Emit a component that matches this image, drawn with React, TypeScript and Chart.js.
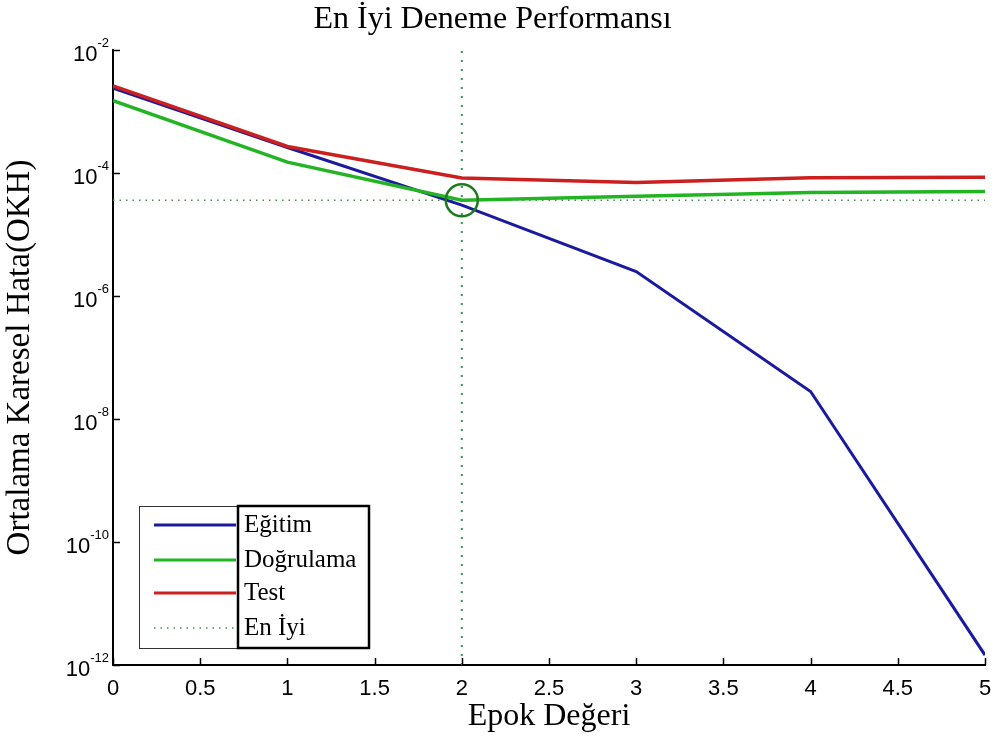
import React, { useEffect, useRef } from "react";
import { Chart, registerables } from "chart.js";

Chart.register(...registerables);

const epochs = [0, 1, 2, 3, 4, 5];
const trainValues = [2.4e-3, 2.6e-4, 3.0e-5, 2.5e-6, 2.8e-8, 1.45e-12];
const validationValues = [1.5e-3, 1.5e-4, 3.6e-5, 4.2e-5, 4.8e-5, 5.0e-5];
const testValues = [2.6e-3, 2.7e-4, 8.3e-5, 7.0e-5, 8.4e-5, 8.5e-5];
const bestEpoch = 2;
const bestValue = 3.6e-5;
const seriesLabels = ["Eğitim", "Doğrulama", "Test", "En İyi"];
const yTickExponents = [-12, -10, -8, -6, -4, -2];
const xTickStep = 0.5;

const titleText = "En İyi Deneme Performansı";
const xTitle = "Epok Değeri";
const yTitle = "Ortalama Karesel Hata(OKH)";

const BLUE = "#1a1a9e";
const GREEN = "#22b422";
const RED = "#cc1f1f";
const BEST = "#2e9a5a";
const CIRCLE = "#1e7a1e";

const serif = "'Liberation Serif', 'Times New Roman', serif";
const sans = "'Liberation Sans', Arial, sans-serif";

const axisDecor = {
  id: "axisDecor",
  afterDraw(chart: any) {
    const ctx = chart.ctx;
    const ca = chart.chartArea;
    const ys = chart.scales.y;
    const xs = chart.scales.x;
    ctx.save();
    ctx.strokeStyle = "#000";
    ctx.lineWidth = 1.5;
    ys.ticks.forEach((t: any) => {
      const p = Math.round(ys.getPixelForValue(t.value)) + 0.5;
      ctx.beginPath();
      ctx.moveTo(ca.left, p);
      ctx.lineTo(ca.left + 7, p);
      ctx.stroke();
    });
    xs.ticks.forEach((t: any) => {
      const p = Math.round(xs.getPixelForValue(t.value)) + 0.5;
      ctx.beginPath();
      ctx.moveTo(p, ca.bottom);
      ctx.lineTo(p, ca.bottom - 7);
      ctx.stroke();
    });
    ctx.fillStyle = "#000";
    ctx.textBaseline = "middle";
    yTickExponents.forEach((e) => {
      const p = ys.getPixelForValue(Math.pow(10, e));
      const expStr = String(e);
      ctx.font = `13px ${sans}`;
      const ew = ctx.measureText(expStr).width;
      const right = ca.left - 4;
      ctx.textAlign = "right";
      ctx.fillText(expStr, right, p - 7);
      ctx.font = `22px ${sans}`;
      ctx.fillText("10", right - ew, p + 5);
    });
    ctx.restore();
  },
};

const customLegend = {
  id: "customLegend",
  afterDraw(chart: any) {
    const ctx = chart.ctx;
    const ca = chart.chartArea;
    const left = ca.left + 26;
    const right = ca.left + 256;
    const top = ca.bottom - 159;
    const bottom = ca.bottom - 17;
    const split = ca.left + 125;
    ctx.save();
    ctx.fillStyle = "#fff";
    ctx.fillRect(left, top, right - left, bottom - top);
    ctx.strokeStyle = "#333";
    ctx.lineWidth = 1;
    ctx.strokeRect(left + 0.5, top + 0.5, right - left, bottom - top);
    ctx.strokeStyle = "#000";
    ctx.lineWidth = 2.5;
    ctx.strokeRect(split, top, right - split, bottom - top);
    const rows = [19, 54, 87, 122];
    const ds = chart.data.datasets;
    for (let i = 0; i < 4; i++) {
      const d = ds[i];
      const y = top + rows[i];
      ctx.beginPath();
      ctx.strokeStyle = d.borderColor;
      ctx.lineWidth = i === 3 ? 1.5 : 3;
      ctx.setLineDash(i === 3 ? [1.5, 5] : []);
      ctx.moveTo(left + 15, y);
      ctx.lineTo(split - 2, y);
      ctx.stroke();
      ctx.setLineDash([]);
      ctx.fillStyle = "#000";
      ctx.font = `25px ${serif}`;
      ctx.textAlign = "left";
      ctx.textBaseline = "middle";
      ctx.fillText(d.label, split + 6, y);
    }
    ctx.restore();
  },
};

export default function App() {
  const ref = useRef<HTMLCanvasElement | null>(null);
  useEffect(() => {
    const mk = (vals: number[]) => epochs.map((x, i) => ({ x, y: vals[i] }));
    const chart = new Chart(ref.current as HTMLCanvasElement, {
      type: "line",
      data: {
        datasets: [
          { label: seriesLabels[0], data: mk(trainValues), borderColor: BLUE, borderWidth: 3, pointRadius: 0, tension: 0, order: 3 },
          { label: seriesLabels[1], data: mk(validationValues), borderColor: GREEN, borderWidth: 3.5, pointRadius: 0, tension: 0, order: 2 },
          { label: seriesLabels[2], data: mk(testValues), borderColor: RED, borderWidth: 3.5, pointRadius: 0, tension: 0, order: 1 },
          {
            label: seriesLabels[3],
            data: [{ x: epochs[0], y: bestValue }, { x: epochs[epochs.length - 1], y: bestValue }],
            borderColor: "#4a8a5a",
            borderWidth: 1.5,
            borderDash: [1.5, 5],
            pointRadius: 0,
            order: 5,
          },
          {
            label: "bestEpochLine",
            data: [{ x: bestEpoch, y: Math.pow(10, yTickExponents[0]) }, { x: bestEpoch, y: Math.pow(10, yTickExponents[yTickExponents.length - 1]) }],
            borderColor: BEST,
            borderWidth: 2,
            borderDash: [2, 7],
            pointRadius: 0,
            order: 6,
          },
          {
            label: "bestCircle",
            data: [{ x: bestEpoch, y: bestValue }],
            borderColor: CIRCLE,
            backgroundColor: "rgba(0,0,0,0)",
            showLine: false,
            pointRadius: 16,
            pointBorderWidth: 2.5,
            pointStyle: "circle",
            order: 0,
          },
        ],
      },
      options: {
        animation: false,
        responsive: false,
        maintainAspectRatio: false,
        layout: { autoPadding: false, padding: { left: 0, right: 9, top: 0, bottom: 0 } },
        plugins: {
          legend: { display: false },
          tooltip: { enabled: false },
          title: {
            display: true,
            text: titleText,
            color: "#000",
            font: { family: serif, size: 32, weight: "normal" },
            padding: { top: 0, bottom: 11.6 },
          },
        },
        scales: {
          x: {
            type: "linear",
            min: epochs[0],
            max: epochs[epochs.length - 1],
            ticks: {
              stepSize: xTickStep,
              color: "#000",
              font: { family: sans, size: 22 },
              padding: 0,
              maxRotation: 0,
              callback: (v: any) => String(Number(v)),
            },
            grid: { display: true, drawOnChartArea: false, drawTicks: true, tickLength: 11, tickColor: "rgba(0,0,0,0)" },
            border: { display: true, color: "#000", width: 2 },
            title: { display: true, text: xTitle, color: "#000", font: { family: serif, size: 32 }, padding: { top: 0, bottom: 13 } },
            afterFit: (s: any) => { s.height = 84; },
          },
          y: {
            type: "logarithmic",
            min: Math.pow(10, yTickExponents[0]),
            max: Math.pow(10, yTickExponents[yTickExponents.length - 1]),
            afterBuildTicks: (s: any) => { s.ticks = yTickExponents.map((e) => ({ value: Math.pow(10, e) })); },
            ticks: { display: false },
            grid: { display: true, drawOnChartArea: false, drawTicks: false },
            border: { display: true, color: "#000", width: 2 },
            title: { display: true, text: yTitle, color: "#000", font: { family: serif, size: 33 }, padding: { top: 1, bottom: 0 } },
            afterFit: (s: any) => { s.width = 113; },
          },
        },
      },
      plugins: [axisDecor, customLegend],
    } as any);
    return () => chart.destroy();
  }, []);
  return (
    <div style={{ position: "absolute", left: 0, top: 0, width: 994, height: 749, background: "#fff" }}>
      <canvas ref={ref} width={994} height={749} style={{ width: 994, height: 749, display: "block" }} />
    </div>
  );
}
